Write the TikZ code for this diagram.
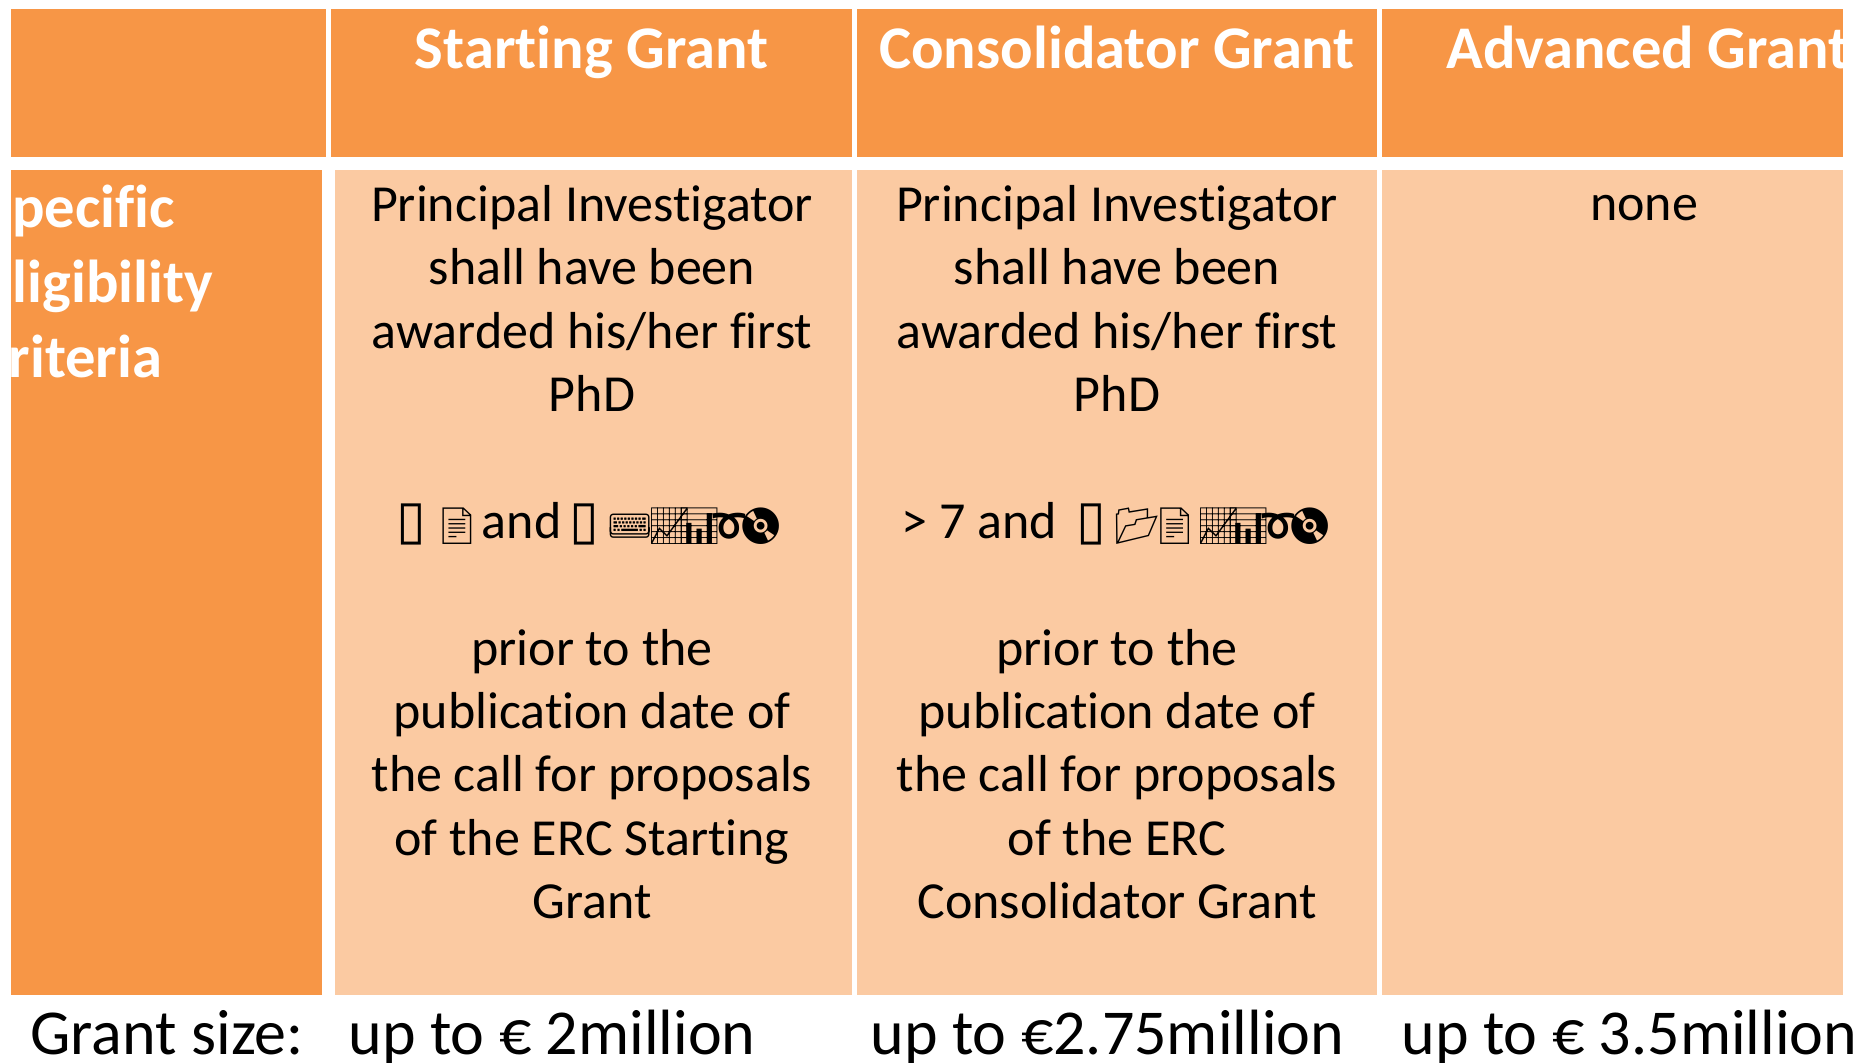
\documentclass[tikz,border=0pt]{standalone}
\usepackage{fontspec}
\setmainfont{Carlito}[Ligatures=NoCommon]
\newfontfamily\symfont{DejaVu Sans}
\newfontfamily\emofont{Noto Emoji}
\definecolor{hdr}{HTML}{F79646}
\definecolor{cellbg}{HTML}{FBCAA2}
\tikzset{
  hdrcell/.style={fill=hdr, draw=none, inner sep=0pt, minimum height=74pt},
  leftcell/.style={fill=hdr, draw=none, inner sep=0pt, minimum height=412.5pt},
  bodycell/.style={fill=cellbg, draw=none, inner sep=0pt, minimum height=412.5pt},
  hdrtext/.style={text=white, inner sep=0pt, font=\bfseries\fontsize{30.3}{37}\selectfont},
  lefttext/.style={text=white, inner sep=0pt, align=left, font=\bfseries\fontsize{30.3}{37.5}\selectfont},
  bodytext/.style={text=black, inner sep=0pt, align=center, font=\fontsize{26}{31.7}\selectfont},
  sizetext/.style={text=black, inner sep=0pt, font=\fontsize{32}{38}\selectfont}
}
\newcommand{\tofu}{{\symfont\fontsize{27}{31}\selectfont\kern-2pt▯\kern-2pt}}
\newcommand{\icon}[1]{{\emofont\fontsize{18}{21}\selectfont #1}}
\begin{document}
\begin{tikzpicture}[x=0.5pt,y=-0.5pt]
\fill[white] (0,0) rectangle (1865,1063);
\useasboundingbox (0,0) rectangle (1865,1063);
\clip (0,0) rectangle (1865,1063);
% header row
\node[hdrcell, minimum width=157.5pt] (h0) at (168.5,83) {};
\node[hdrcell, minimum width=260.5pt] (h1) at (591.5,83) {};
\node[hdrcell, minimum width=260pt] (h2) at (1117,83) {};
\node[hdrcell, minimum width=230.5pt] (h3) at (1612.5,83) {};
% body row
\node[leftcell, minimum width=155.5pt] (b0) at (166.5,582.5) {};
\node[bodycell, minimum width=258.5pt] (b1) at (593.5,582.5) {};
\node[bodycell, minimum width=260pt] (b2) at (1117,582.5) {};
\node[bodycell, minimum width=230.5pt] (b3) at (1612.5,582.5) {};
% header texts
\node[hdrtext, anchor=base] (t1) at (591.5,69) {Starting Grant};
\node[hdrtext, anchor=base] (t2) at (1117,69) {Consolidator Grant};
\begin{scope}
\clip (h3.south west) rectangle (h3.north east);
\node[hdrtext, anchor=base west] (t3) at (1446,69) {Advanced Grant};
\end{scope}
% left column text
\begin{scope}
\clip (b0.south west) rectangle (b0.north east);
\node[lefttext, anchor=north west] (crit) at (-17,175) {\strut Specific\\Eligibility\\criteria};
\end{scope}
% body texts
\node[bodytext, anchor=north] (c1) at (592,176.6) {\strut Principal Investigator\\shall have been\\awarded his/her first\\PhD\\\strut\\
\tofu\hspace{6pt}\icon{📄}\kern1pt and \tofu\hspace{6pt}\icon{⌨}\kern-3pt\icon{📈}\kern-8pt\icon{📊}\kern-8pt\icon{➰}\kern-7pt\icon{📀}\\\strut\\
prior to the\\publication date of\\the call for proposals\\of the ERC Starting\\Grant};
\node[bodytext, anchor=north] (c2) at (1117,176.6) {\strut Principal Investigator\\shall have been\\awarded his/her first\\PhD\\\strut\\
> 7 and \ \tofu\hspace{6pt}\icon{📂}\kern-4pt\icon{📄}\kern-1pt\icon{📈}\kern-8pt\icon{📊}\kern-8pt\icon{➰}\kern-7pt\icon{📀}\\\strut\\
prior to the\\publication date of\\the call for proposals\\of the ERC\\Consolidator Grant};
\node[bodytext, anchor=base] (c3) at (1644,221) {none};
% grant sizes
\node[sizetext, anchor=base west] (g0) at (30,1054) {Grant size:};
\node[sizetext, anchor=base west] (g1) at (348,1054) {up to € 2million};
\node[sizetext, anchor=base west] (g2) at (870,1054) {up to €2.75million};
\node[sizetext, anchor=base west] (g3) at (1401,1054) {up to € 3.5million};
\end{tikzpicture}
\end{document}
